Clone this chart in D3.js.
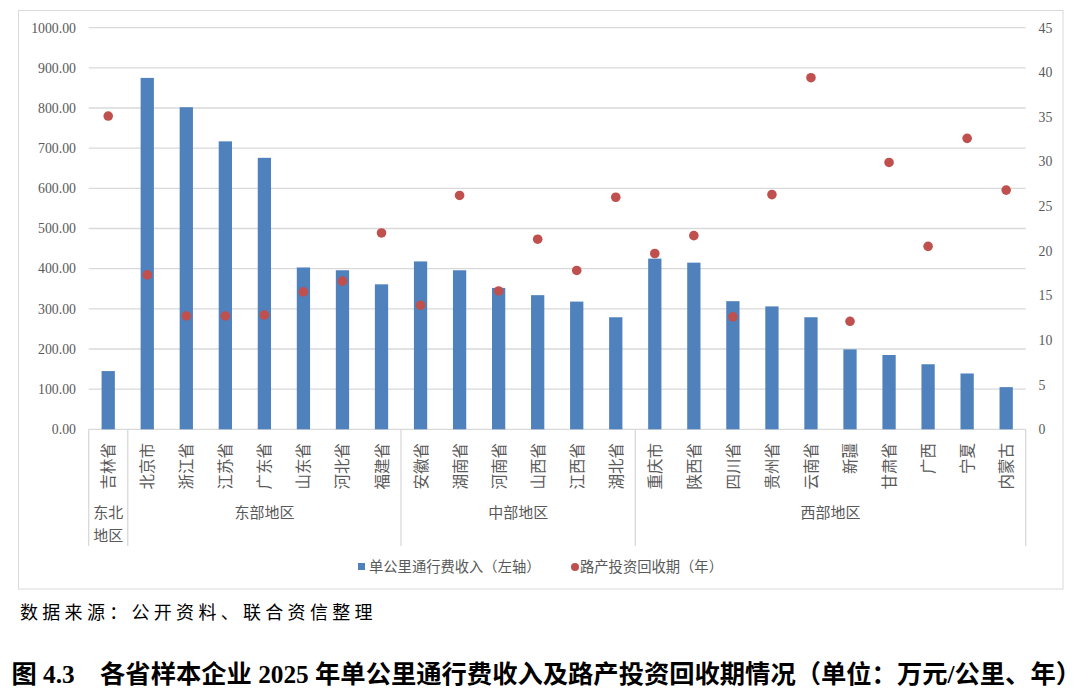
<!DOCTYPE html>
<html>
<head>
<meta charset="utf-8">
<script src="https://cdn.jsdelivr.net/npm/d3@7"></script>
<style>
  body { margin: 0; background: #fff; }
  text { font-family: "Liberation Serif", "Noto Sans CJK SC", serif; }
  .cjk { font-family: "Noto Sans CJK SC", sans-serif; }
</style>
</head>
<body>
<script>
var provinces = ["吉林省", "北京市", "浙江省", "江苏省", "广东省", "山东省", "河北省", "福建省",
  "安徽省", "湖南省", "河南省", "山西省", "江西省", "湖北省",
  "重庆市", "陕西省", "四川省", "贵州省", "云南省", "新疆", "甘肃省", "广西", "宁夏", "内蒙古"];
var regions = [["东北", "地区"], ["东部地区"], ["中部地区"], ["西部地区"]];
var regionSizes = [1, 7, 6, 10];
// 单公里通行费收入 (万元/公里)
var income = [145, 875, 802, 717, 676, 403, 396, 361,
  418, 396, 352, 334, 318, 279,
  425, 415, 319, 306, 279, 199, 185, 162, 139, 105];
// 路产投资回收期 (年)
var payback = [35.1, 17.3, 12.7, 12.7, 12.8, 15.4, 16.6, 22.0,
  13.9, 26.2, 15.5, 21.3, 17.8, 26.0,
  19.7, 21.7, 12.6, 26.3, 39.4, 12.1, 29.9, 20.5, 32.6, 26.8];
var leftTicks = d3.range(0, 1001, 100);
var rightTicks = d3.range(0, 46, 5);

var width = 1080, height = 693;
var plot = {left: 88.7, right: 1025.7, top: 27.7, bottom: 429.3};

var svg = d3.select("body").append("svg")
    .attr("width", width)
    .attr("height", height);

// chart frame
svg.append("rect")
    .attr("x", 18.5).attr("y", 10.5)
    .attr("width", 1044.5).attr("height", 578.5)
    .attr("fill", "#fff")
    .attr("stroke", "#d9d9d9");

var x = d3.scaleBand()
    .domain(provinces)
    .range([plot.left, plot.right])
    .paddingInner(0.66)
    .paddingOuter(0.33);

var yL = d3.scaleLinear().domain([0, 1000]).range([plot.bottom, plot.top]);
var yR = d3.scaleLinear().domain([0, 45]).range([plot.bottom, plot.top]);

// gridlines
svg.append("g")
  .selectAll("line")
  .data(leftTicks)
  .enter().append("line")
    .attr("x1", plot.left).attr("x2", plot.right)
    .attr("y1", function(d) { return yL(d); })
    .attr("y2", function(d) { return yL(d); })
    .attr("stroke", "#d9d9d9")
    .attr("stroke-width", 1.3);

// left axis labels
svg.append("g")
  .selectAll("text")
  .data(leftTicks)
  .enter().append("text")
    .attr("x", 76)
    .attr("y", function(d) { return yL(d); })
    .attr("dy", "0.35em")
    .attr("text-anchor", "end")
    .attr("font-size", 13.8)
    .attr("fill", "#595959")
    .text(d3.format(".2f"));

// right axis labels
svg.append("g")
  .selectAll("text")
  .data(rightTicks)
  .enter().append("text")
    .attr("x", 1038.5)
    .attr("y", function(d) { return yR(d); })
    .attr("dy", "0.35em")
    .attr("font-size", 13.8)
    .attr("fill", "#595959")
    .text(function(d) { return d; });

// bars
svg.append("g")
  .selectAll("rect")
  .data(income)
  .enter().append("rect")
    .attr("x", function(d, i) { return x(provinces[i]); })
    .attr("y", function(d) { return yL(d); })
    .attr("width", x.bandwidth())
    .attr("height", function(d) { return yL(0) - yL(d); })
    .attr("fill", "#4f81bd");

// dots
svg.append("g")
  .selectAll("circle")
  .data(payback)
  .enter().append("circle")
    .attr("cx", function(d, i) { return x(provinces[i]) + x.bandwidth() / 2; })
    .attr("cy", function(d) { return yR(d); })
    .attr("r", 4.8)
    .attr("fill", "#c0504d");

// category axis: separators between regions
var step = x.step();
var bounds = [0];
regionSizes.forEach(function(n, i) { bounds.push(bounds[i] + n); });

svg.append("g")
  .selectAll("line")
  .data(bounds)
  .enter().append("line")
    .attr("x1", function(d) { return plot.left + d * step; })
    .attr("x2", function(d) { return plot.left + d * step; })
    .attr("y1", plot.bottom)
    .attr("y2", 546)
    .attr("stroke", "#d9d9d9")
    .attr("stroke-width", 1.3);

// category labels, rotated
svg.append("g")
  .selectAll("text")
  .data(provinces)
  .enter().append("text")
    .attr("class", "cjk")
    .attr("transform", function(d) {
      return "translate(" + (x(d) + x.bandwidth() / 2 - 1) + ",443) rotate(-90)";
    })
    .attr("text-anchor", "end")
    .attr("dominant-baseline", "central")
    .attr("font-size", 15.5)
    .attr("fill", "#595959")
    .text(function(d) { return d; });

// region labels
var regionG = svg.append("g");
regions.forEach(function(lines, i) {
  var cx = plot.left + (bounds[i] + bounds[i + 1]) / 2 * step;
  lines.forEach(function(s, j) {
    regionG.append("text")
      .attr("class", "cjk")
      .attr("x", cx)
      .attr("y", 513 + j * 22.5)
      .attr("dy", "0.35em")
      .attr("text-anchor", "middle")
      .attr("font-size", 15)
      .attr("fill", "#595959")
      .text(s);
  });
});

// legend
var legend = svg.append("g");
legend.append("rect")
    .attr("x", 358).attr("y", 563)
    .attr("width", 7).attr("height", 7)
    .attr("fill", "#4f81bd");
legend.append("text")
    .attr("class", "cjk")
    .attr("x", 369).attr("y", 567)
    .attr("dy", "0.35em")
    .attr("font-size", 14.3)
    .attr("fill", "#595959")
    .text("单公里通行费收入（左轴）");
legend.append("circle")
    .attr("cx", 575).attr("cy", 567)
    .attr("r", 4)
    .attr("fill", "#c0504d");
legend.append("text")
    .attr("class", "cjk")
    .attr("x", 580).attr("y", 567)
    .attr("dy", "0.35em")
    .attr("font-size", 14.3)
    .attr("fill", "#595959")
    .text("路产投资回收期（年）");

// source note
svg.append("text")
    .attr("class", "cjk")
    .attr("x", 20).attr("y", 613)
    .attr("dy", "0.35em")
    .attr("font-size", 18)
    .attr("letter-spacing", 4.3)
    .attr("fill", "#000")
    .text("数据来源：公开资料、联合资信整理");

// title
svg.append("text")
    .attr("x", 11.5).attr("y", 674)
    .attr("dy", "0.35em")
    .attr("font-size", 25.3)
    .attr("font-weight", "bold")
    .attr("fill", "#000")
    .text("图 4.3\u3000各省样本企业 2025 年单公里通行费收入及路产投资回收期情况（单位：万元/公里、年）");
</script>
</body>
</html>
